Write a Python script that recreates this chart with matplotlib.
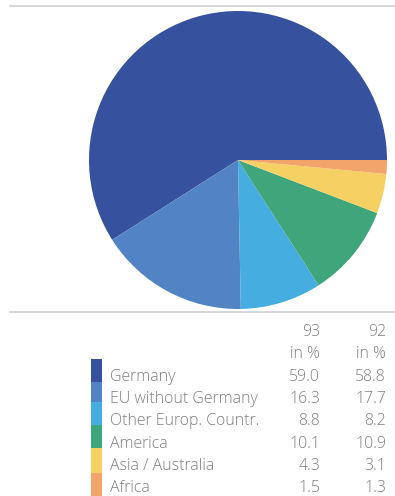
import numpy as np
import matplotlib
matplotlib.use('Agg')
import matplotlib.pyplot as plt
from matplotlib.patches import Rectangle

# Net sales by region, 1993 and 1992 (in %)
regions = ['Germany', 'EU without Germany', 'Other Europ. Countr.',
           'America', 'Asia / Australia', 'Africa']
share_93 = [59.0, 16.3, 8.8, 10.1, 4.3, 1.5]
share_92 = [58.8, 17.7, 8.2, 10.9, 3.1, 1.3]
years = ['93', '92']
colors = ['#36529e', '#5283c4', '#46ade0', '#3fa67c', '#f5d062', '#f3a46a']

W, H = 395, 496
fig = plt.figure(figsize=(W / 100, H / 100), dpi=100)
fig.patch.set_facecolor('white')

# overlay axes in pixel coordinates for rules, table and legend strip
bg = fig.add_axes([0, 0, 1, 1])
bg.set_xlim(0, W)
bg.set_ylim(H, 0)
bg.axis('off')

# pie, 1993 shares
cx, cy, r = 238, 160, 149
ax = fig.add_axes([(cx - r) / W, 1 - (cy + r) / H, 2 * r / W, 2 * r / H])
ax.pie(share_93, colors=colors, startangle=0, counterclock=True,
       wedgeprops=dict(linewidth=0))
ax.set_xlim(-1, 1)
ax.set_ylim(-1, 1)
ax.set_aspect('equal')

# thin rules above and below the pie
bg.plot([10, W], [6, 6], color='#cfcfcf', lw=1.2)
bg.plot([10, W], [312, 312], color='#cfcfcf', lw=1.2)

txt = dict(color='#7f7f7f', fontsize=11.4, family=['Open Sans', 'DejaVu Sans'],
           fontweight='light', va='center')

col_x = [320, 386]
for x, y in zip(col_x, years):
    bg.text(x, 332, y, ha='right', **txt)
    bg.text(x, 354, 'in %', ha='right', **txt)

row_y = 377 + 22.2 * np.arange(len(regions))
for i, name in enumerate(regions):
    bg.text(110, row_y[i], name, ha='left', **txt)
    bg.text(col_x[0], row_y[i], f'{share_93[i]:.1f}', ha='right', **txt)
    bg.text(col_x[1], row_y[i], f'{share_92[i]:.1f}', ha='right', **txt)

# colour strip next to the labels
edges = [359, 382, 402, 425, 448, 473, 496]
for i, c in enumerate(colors):
    bg.add_patch(Rectangle((91, edges[i]), 11, edges[i + 1] - edges[i],
                           facecolor=c, edgecolor='none'))

fig.savefig('out.png', dpi=100)
